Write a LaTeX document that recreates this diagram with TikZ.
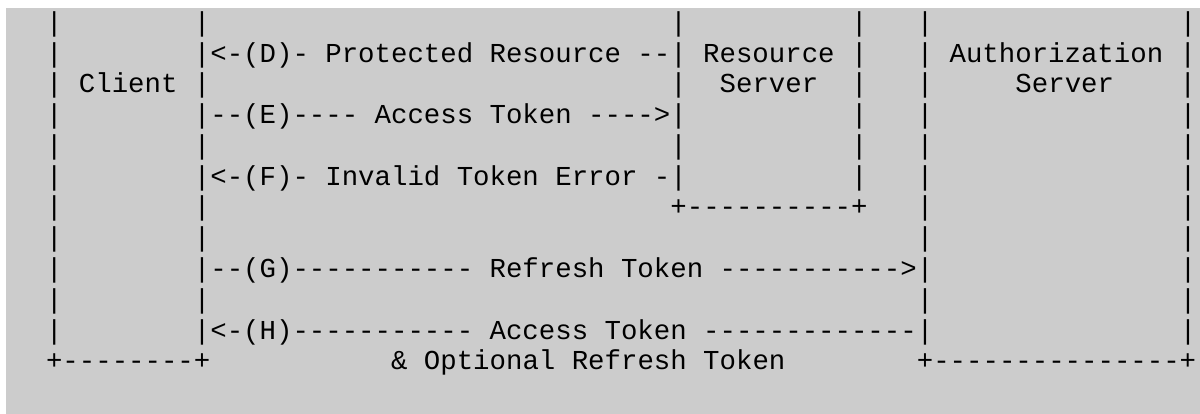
\documentclass[tikz,border=0pt]{standalone}
\usepackage{fontspec}
\setmonofont{Liberation Mono}
\definecolor{bggray}{RGB}{204,204,204}
\newcommand\spc[1]{\hskip#1\fontdimen2\font\relax}
\tikzset{
  asciirow/.style={anchor=base west, inner sep=0pt, outer sep=0pt,
    font=\ttfamily\fontsize{27.38}{30.75}\selectfont, text=black}
}
\begin{document}
\frenchspacing
\begin{tikzpicture}[x=1pt,y=1pt]
\useasboundingbox (0,0) rectangle (1200,-414);
\fill[white] (0,0) rectangle (1200,-414);
\fill[bggray] (6,-8) rectangle (1200,-414);
\def\rowx{13.2}
\def\rowh{30.75}
\def\rowy{-31.5}
\node[asciirow] (l1)  at (\rowx,\rowy-0*\rowh)  {\spc{2}|\spc{8}|\spc{28}|\spc{10}|\spc{3}|\spc{15}|};
\node[asciirow] (l2)  at (\rowx,\rowy-1*\rowh)  {\spc{2}|\spc{8}|<-(D)- Protected Resource --| Resource |\spc{3}| Authorization |};
\node[asciirow] (l3)  at (\rowx,\rowy-2*\rowh)  {\spc{2}| Client |\spc{28}|\spc{2}Server\spc{2}|\spc{3}|\spc{5}Server\spc{4}|};
\node[asciirow] (l4)  at (\rowx,\rowy-3*\rowh)  {\spc{2}|\spc{8}|--(E)---- Access Token ---->|\spc{10}|\spc{3}|\spc{15}|};
\node[asciirow] (l5)  at (\rowx,\rowy-4*\rowh)  {\spc{2}|\spc{8}|\spc{28}|\spc{10}|\spc{3}|\spc{15}|};
\node[asciirow] (l6)  at (\rowx,\rowy-5*\rowh)  {\spc{2}|\spc{8}|<-(F)- Invalid Token Error -|\spc{10}|\spc{3}|\spc{15}|};
\node[asciirow] (l7)  at (\rowx,\rowy-6*\rowh)  {\spc{2}|\spc{8}|\spc{28}+----------+\spc{3}|\spc{15}|};
\node[asciirow] (l8)  at (\rowx,\rowy-7*\rowh)  {\spc{2}|\spc{8}|\spc{43}|\spc{15}|};
\node[asciirow] (l9)  at (\rowx,\rowy-8*\rowh)  {\spc{2}|\spc{8}|--(G)----------- Refresh Token ----------->|\spc{15}|};
\node[asciirow] (l10) at (\rowx,\rowy-9*\rowh)  {\spc{2}|\spc{8}|\spc{43}|\spc{15}|};
\node[asciirow] (l11) at (\rowx,\rowy-10*\rowh) {\spc{2}|\spc{8}|<-(H)----------- Access Token -------------|\spc{15}|};
\node[asciirow] (l12) at (\rowx,\rowy-11*\rowh) {\spc{2}+--------+\spc{11}\& Optional Refresh Token\spc{8}+---------------+};
\end{tikzpicture}
\end{document}
